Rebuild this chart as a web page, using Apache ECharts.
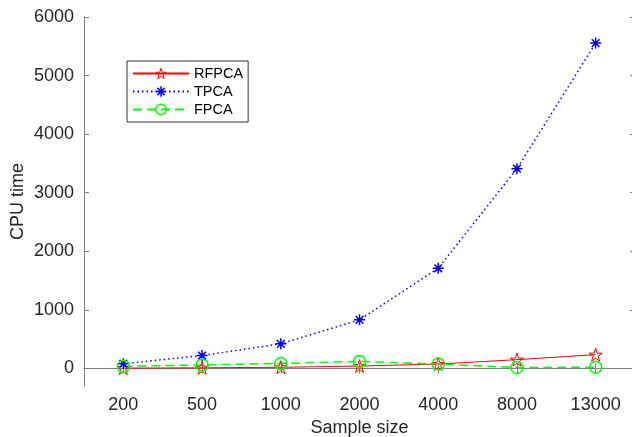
<!DOCTYPE html>
<html>
<head>
<meta charset="utf-8">
<script src="https://cdn.jsdelivr.net/npm/echarts@6.0.0/dist/echarts.min.js"></script>
<style>
  html, body { margin: 0; padding: 0; background: #fff; }
  #main { width: 632px; height: 437px; }
</style>
</head>
<body>
<div id="main"></div>
<script>
var sampleSizes = ['200', '500', '1000', '2000', '4000', '8000', '13000'];
var rfpcaTime = [5, 10, 20, 40, 75, 150, 235];
var tpcaTime = [80, 220, 420, 830, 1710, 3410, 5555];
var fpcaTime = [35, 60, 85, 120, 75, 15, 20];
var yTicks = [0, 1000, 2000, 3000, 4000, 5000, 6000];

var STAR = 'path://M0,-100L22.45,-30.9L95.1,-30.9L36.3,11.8L58.8,80.9L0,38.2L-58.8,80.9L-36.3,11.8L-95.1,-30.9L-22.45,-30.9Z';
var ASTERISK = 'path://M0,-100L0,100M-100,0L100,0M-70,-70L70,70M-70,70L70,-70';

var FONT = '"Liberation Sans", Arial, sans-serif';
var AXIS_COLOR = '#7f7f7f';
var TEXT_COLOR = '#262626';

var chartDom = document.getElementById('main');
var myChart = echarts.init(chartDom);

var tickStyle = { show: true, inside: true, length: 5, lineStyle: { color: AXIS_COLOR, width: 1 } };

myChart.setOption({
  animation: false,
  backgroundColor: '#fff',
  textStyle: { fontFamily: FONT },
  grid: { left: 84, top: 17, width: 551, height: 369, containLabel: false, outerBoundsMode: 'none' },
  legend: {
    orient: 'vertical',
    left: 127,
    top: 61,
    padding: [5, 5, 5, 5],
    itemWidth: 56,
    itemHeight: 13,
    itemGap: 3,
    itemTextGap: 5,
    borderColor: '#333',
    borderWidth: 1,
    backgroundColor: '#fff',
    textStyle: { fontSize: 14.5, lineHeight: 12, color: '#000', fontFamily: FONT },
    data: [
      { name: 'RFPCA', itemStyle: { color: 'rgba(255,255,255,0)', borderColor: '#ff0000', borderWidth: 1 } },
      { name: 'TPCA', itemStyle: { color: 'rgba(255,255,255,0)', borderColor: '#0000ff', borderWidth: 1.5 } },
      { name: 'FPCA', itemStyle: { color: 'rgba(255,255,255,0)', borderColor: '#00ff00', borderWidth: 1.5 } }
    ]
  },
  xAxis: [
    {
      type: 'category',
      data: sampleSizes,
      name: 'Sample size',
      nameLocation: 'middle',
      nameGap: 33,
      nameTextStyle: { fontSize: 18, color: TEXT_COLOR, fontFamily: FONT },
      axisLine: { lineStyle: { color: AXIS_COLOR, width: 1 } },
      axisTick: Object.assign({ alignWithLabel: true }, tickStyle),
      axisLabel: { fontSize: 18, color: TEXT_COLOR, margin: 10, fontFamily: FONT },
      splitLine: { show: false }
    },
    {
      type: 'category',
      data: sampleSizes,
      position: 'top',
      axisLine: { lineStyle: { color: AXIS_COLOR, width: 1 } },
      axisTick: Object.assign({ alignWithLabel: true }, tickStyle),
      axisLabel: { show: false },
      splitLine: { show: false }
    }
  ],
  yAxis: [
    {
      type: 'value',
      min: -300,
      max: 6000,
      name: 'CPU time',
      nameLocation: 'middle',
      nameGap: 57,
      nameMoveOverlap: false,
      nameTextStyle: { fontSize: 18, color: TEXT_COLOR, fontFamily: FONT },
      axisLine: { show: true, lineStyle: { color: AXIS_COLOR, width: 1 } },
      axisTick: Object.assign({ customValues: yTicks }, tickStyle),
      axisLabel: {
        customValues: yTicks,
        fontSize: 18,
        color: TEXT_COLOR,
        margin: 10,
        fontFamily: FONT,
        formatter: function (v) { return String(v); }
      },
      splitLine: { show: false }
    },
    {
      type: 'value',
      min: -300,
      max: 6000,
      position: 'right',
      axisLine: { show: true, lineStyle: { color: AXIS_COLOR, width: 1 } },
      axisTick: Object.assign({ customValues: yTicks }, tickStyle),
      axisLabel: { show: false },
      splitLine: { show: false }
    }
  ],
  series: [
    {
      name: 'RFPCA',
      type: 'line',
      data: rfpcaTime,
      symbol: STAR,
      symbolSize: 13,
      lineStyle: { color: '#ff0000', width: 1 },
      itemStyle: { color: 'rgba(255,255,255,0)', borderColor: '#ff0000', borderWidth: 1 }
    },
    {
      name: 'TPCA',
      type: 'line',
      data: tpcaTime,
      symbol: ASTERISK,
      symbolSize: 11,
      lineStyle: { color: '#0000ff', width: 1.5, type: [1.5, 3] },
      itemStyle: { color: 'rgba(0,0,255,0)', borderColor: '#0000ff', borderWidth: 1.5 }
    },
    {
      name: 'FPCA',
      type: 'line',
      data: fpcaTime,
      symbol: 'circle',
      symbolSize: 12,
      lineStyle: { color: '#00ff00', width: 1.5, type: [9, 5] },
      itemStyle: { color: 'rgba(255,255,255,0)', borderColor: '#00ff00', borderWidth: 1.5 }
    }
  ]
});
</script>
</body>
</html>
